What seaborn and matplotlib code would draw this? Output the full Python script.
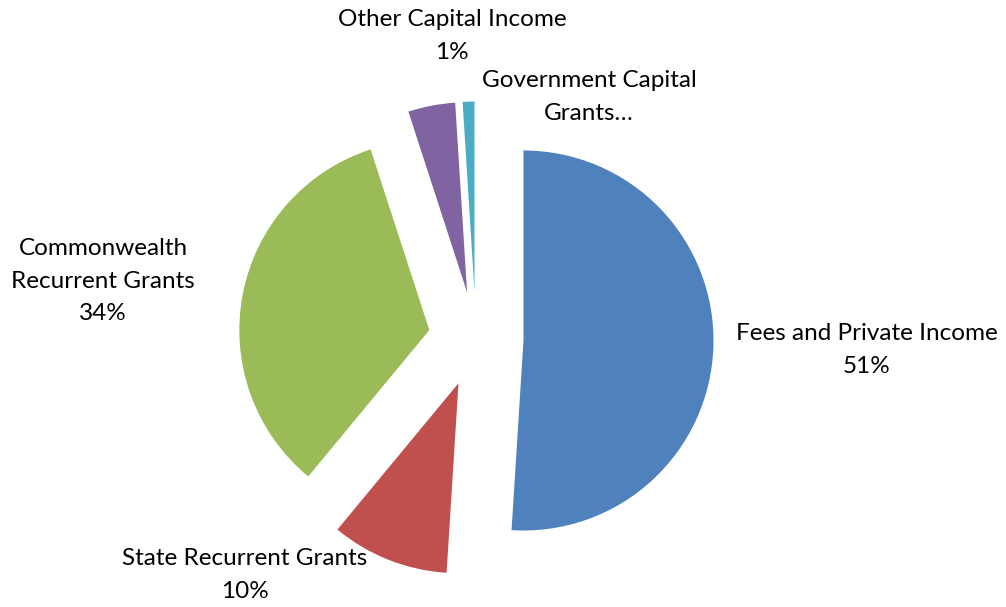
import matplotlib
matplotlib.use("Agg")
import matplotlib.pyplot as plt
import seaborn as sns

# Data
categories = ["Fees and Private Income", "State Recurrent Grants",
              "Commonwealth Recurrent Grants", "Government Capital Grants",
              "Other Capital Income"]
values = [51, 10, 34, 4, 1]
label_texts = ["Fees and Private Income\n51%", "State Recurrent Grants\n10%",
               "Commonwealth\nRecurrent Grants\n34%", "Government Capital\nGrants…",
               "Other Capital Income\n1%"]
colors = ["#4F81BD", "#C0504D", "#9BBB59", "#8064A2", "#4BACC6"]

sns.set_theme(style="white")
plt.rcParams['font.family'] = ['Lato', 'DejaVu Sans']

W, H = 1006, 607
fig = plt.figure(figsize=(W / 100, H / 100), dpi=100)
ax = fig.add_axes([0, 0, 1, 1])

cx, cy, r = 476, H - 339, 190
explode_frac = 0.25
ax.pie(values, colors=colors, startangle=90, counterclock=False,
       explode=[explode_frac * r] * len(values), radius=r, center=(cx, cy),
       wedgeprops=dict(linewidth=0), frame=False)
ax.set_xlim(0, W)
ax.set_ylim(0, H)
ax.set_aspect("equal")
ax.axis("off")

# label anchor positions (pixel coordinates from top-left)
label_pos = [(867, 350), (245, 575), (103, 281), (589, 97), (452, 36)]
for txt, (x, y) in zip(label_texts, label_pos):
    ax.text(x, H - y, txt, ha="center", va="center", fontsize=17.5,
            color="#000000", linespacing=1.65)

fig.savefig("out.png", dpi=100)
